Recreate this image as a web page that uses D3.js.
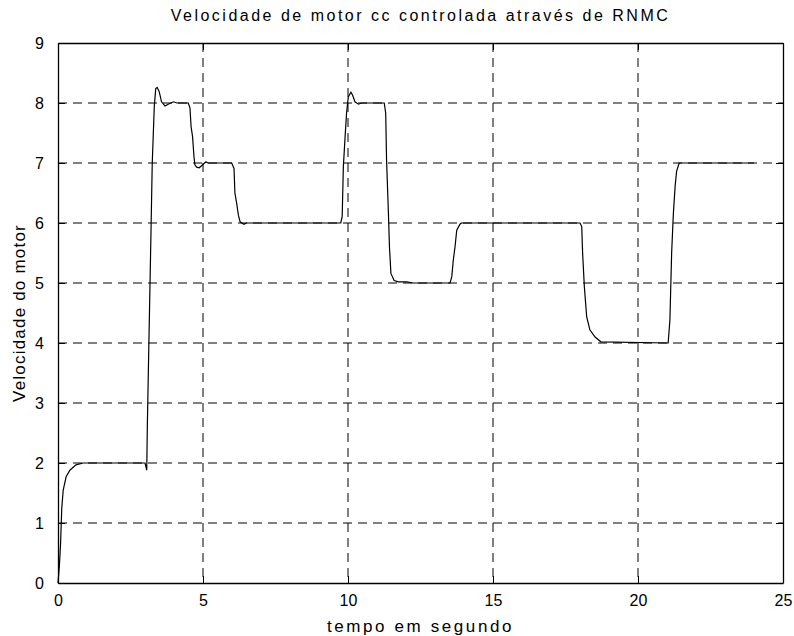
<!DOCTYPE html>
<html>
<head>
<meta charset="utf-8">
<script src="https://cdn.jsdelivr.net/npm/d3@7"></script>
<style>
  body { margin: 0; background: #fff; }
  text { font-family: "Liberation Sans", Arial, sans-serif; fill: #000; }
</style>
</head>
<body>
<div id="chart"></div>
<script>
// time (s) and motor speed
var tempo = [0, 0.05, 0.09, 0.13, 0.18, 0.28, 0.41, 0.62, 0.87, 1.0, 3.0, 3.06, 3.08, 3.11, 3.21, 3.25, 3.32, 3.37, 3.42,
    3.49, 3.57, 3.69, 3.8, 3.98, 4.1, 4.49, 4.55, 4.59, 4.64, 4.69, 4.72, 4.78, 4.87, 4.99, 5.1, 5.17, 5.99,
    6.07, 6.1, 6.16, 6.22, 6.28, 6.41, 6.5, 9.75, 9.8, 9.84, 9.9, 9.95, 10.01, 10.1, 10.16, 10.24, 10.36, 10.47,
    11.25, 11.3, 11.33, 11.39, 11.43, 11.48, 11.59, 11.74, 12.02, 12.25, 13.52, 13.58, 13.63, 13.69, 13.75,
    13.86, 13.91, 18.0, 18.06, 18.09, 18.15, 18.23, 18.34, 18.52, 18.72, 21.04, 21.1, 21.16, 21.22, 21.28,
    21.33, 21.42, 24.0];
var velocidade = [0, 0.3, 0.67, 1.25, 1.55, 1.77, 1.88, 1.97, 2.0, 2.0, 2.0, 1.88, 2.6, 3.38, 5.94, 7.0, 7.94, 8.24, 8.26,
    8.19, 8.02, 7.95, 7.98, 8.02, 8.0, 8.0, 7.92, 7.6, 7.44, 7.1, 6.97, 6.93, 6.92, 6.97, 7.02, 7.0, 7.0,
    6.91, 6.5, 6.33, 6.13, 6.02, 5.98, 6.0, 6.0, 6.11, 6.94, 7.44, 7.83, 8.1, 8.18, 8.13, 8.02, 7.98, 8.0,
    8.0, 7.83, 7.05, 6.22, 5.6, 5.16, 5.04, 5.02, 5.02, 5.0, 5.0, 5.11, 5.38, 5.6, 5.88,
    5.98, 6.0, 6.0, 5.94, 5.5, 4.94, 4.44, 4.22, 4.1, 4.02, 4.0, 4.38, 5.5, 6.16, 6.61,
    6.86, 7.0, 7.0];
var xTicks = [0, 5, 10, 15, 20, 25];
var yTicks = [0, 1, 2, 3, 4, 5, 6, 7, 8, 9];

var titulo = "Velocidade de motor cc controlada através de RNMC";
var xLabel = "tempo em segundo";
var yLabel = "Velocidade do motor";

var w = 794;
var h = 636;
var plotL = 58, plotR = 783, plotT = 43, plotB = 583;

var svg = d3.select("#chart")
    .append("svg")
    .attr("width", w)
    .attr("height", h);

var xScale = d3.scaleLinear().domain([0, 25]).range([plotL, plotR]);
var yScale = d3.scaleLinear().domain([0, 9]).range([plotB, plotT]);

// dashed grid
svg.selectAll(".vgrid")
    .data(xTicks.slice(1, -1))
    .enter()
    .append("line")
    .attr("x1", function (d) { return xScale(d); })
    .attr("x2", function (d) { return xScale(d); })
    .attr("y1", plotT)
    .attr("y2", plotB)
    .attr("stroke", "#000")
    .attr("stroke-width", 1)
    .attr("stroke-dasharray", "9,6");

svg.selectAll(".hgrid")
    .data(yTicks.slice(1, -1))
    .enter()
    .append("line")
    .attr("x1", plotL)
    .attr("x2", plotR)
    .attr("y1", function (d) { return yScale(d); })
    .attr("y2", function (d) { return yScale(d); })
    .attr("stroke", "#000")
    .attr("stroke-width", 1)
    .attr("stroke-dasharray", "9,6");

// axes with inward ticks
var xAxis = d3.axisBottom(xScale).tickValues(xTicks).tickSizeInner(-7).tickSizeOuter(0).tickPadding(12);
var yAxis = d3.axisLeft(yScale).tickValues(yTicks).tickSizeInner(-7).tickSizeOuter(0).tickPadding(14);

svg.append("g")
    .attr("transform", "translate(0," + plotB + ")")
    .call(xAxis);
svg.append("g")
    .attr("transform", "translate(" + plotL + ",0)")
    .call(yAxis);

svg.append("g")
    .attr("transform", "translate(0," + plotT + ")")
    .call(d3.axisTop(xScale).tickValues(xTicks).tickSizeInner(-7).tickSizeOuter(0).tickFormat(""));
svg.append("g")
    .attr("transform", "translate(" + plotR + ",0)")
    .call(d3.axisRight(yScale).tickValues(yTicks).tickSizeInner(-7).tickSizeOuter(0).tickFormat(""));

svg.selectAll(".domain").attr("stroke", "#000").attr("stroke-width", 1.3);
svg.selectAll(".tick line").attr("stroke", "#000");
svg.selectAll(".tick text")
    .style("font-family", "'Liberation Sans', Arial, sans-serif")
    .style("font-size", "16px")
    .attr("fill", "#000");

// data line
var line = d3.line()
    .x(function (d, i) { return xScale(tempo[i]); })
    .y(function (d) { return yScale(d); });

svg.append("path")
    .datum(velocidade)
    .attr("d", line)
    .attr("fill", "none")
    .attr("stroke", "#000")
    .attr("stroke-width", 1.2);

// titles
svg.append("text")
    .attr("x", (plotL + plotR) / 2)
    .attr("y", 21)
    .attr("text-anchor", "middle")
    .style("font-size", "16px")
    .style("letter-spacing", "2.5px")
    .text(titulo);

svg.append("text")
    .attr("x", (plotL + plotR) / 2)
    .attr("y", 632)
    .attr("text-anchor", "middle")
    .style("font-size", "17px")
    .style("letter-spacing", "2.6px")
    .text(xLabel);

svg.append("text")
    .attr("transform", "translate(25," + ((plotT + plotB) / 2) + ") rotate(-90)")
    .attr("text-anchor", "middle")
    .style("font-size", "17px")
    .style("letter-spacing", "1.2px")
    .text(yLabel);
</script>
</body>
</html>
